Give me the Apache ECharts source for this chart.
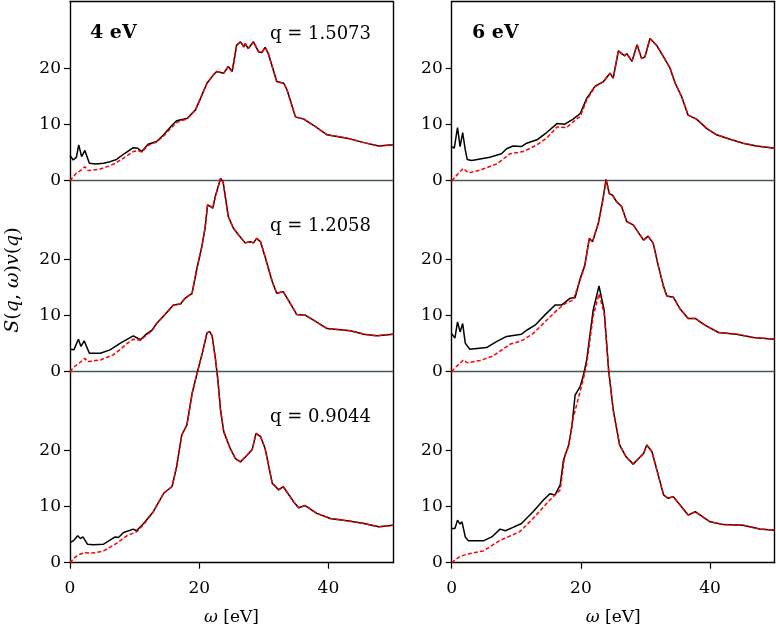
<!DOCTYPE html>
<html>
<head>
<meta charset="utf-8">
<script src="https://cdn.jsdelivr.net/npm/echarts@6/dist/echarts.min.js"></script>
<style>html,body{margin:0;padding:0;background:#fff}#c{width:776px;height:631px}</style>
</head>
<body>
<div id="c"></div>
<script>
// ---------- data: [omega (eV), S(q,w)v(q)] ----------
const panelLabels = ['4 eV', '6 eV'];
const qLabels = ['q = 1.5073', 'q = 1.2058', 'q = 0.9044'];
const xTicks = [0, 20, 40];
const yTicks = [0, 10, 20];

// 4 eV, q = 1.5073
const fullL1 = [[0,4.5],[0.5,3.7],[1.0,4.2],[1.35,6.4],[1.8,4.3],[2.3,5.4],[3.0,3.1],[4,3.0],[5.2,3.1],[6.2,3.4],[7.2,3.8],[8.5,4.9],[9.8,5.9],[10.5,5.8],[11.1,5.2],[12.1,6.5],[13.4,7.0],[14.5,8.2],[15.8,9.9],[16.5,10.7],[17.2,10.9],[18.1,11.1],[19.4,12.6],[20.2,14.7],[21.2,17.4],[22.2,18.9],[22.7,19.5],[23.8,19.2],[24.5,20.4],[25.1,19.5],[25.8,24.2],[26.4,24.8],[26.9,23.9],[27.1,24.5],[27.6,23.6],[28.4,24.8],[29.2,23.0],[29.7,22.9],[30.2,23.8],[30.7,22.7],[32.0,17.7],[33.1,17.4],[33.6,16.2],[34.9,11.4],[36.2,11.0],[37.7,9.9],[39.8,8.2],[42.9,7.6],[45.5,6.8],[47.8,6.2],[50,6.4]];
const approxL1 = [[0,0],[0.5,0.7],[1.0,1.4],[1.5,1.7],[2.3,2.5],[2.8,1.8],[3.5,1.9],[4.7,2.1],[6.0,2.6],[7.0,3.1],[8.5,4.2],[9.8,5.2],[10.5,5.4],[11.1,5.1],[12.1,6.3],[13.4,6.9],[14.5,8.0],[15.8,9.6],[16.5,10.4],[17.2,10.7],[18.1,11.0],[19.4,12.6],[20.2,14.7],[21.2,17.4],[22.2,18.9],[22.7,19.5],[23.8,19.2],[24.5,20.4],[25.1,19.5],[25.8,24.2],[26.4,24.8],[26.9,23.9],[27.1,24.5],[27.6,23.6],[28.4,24.8],[29.2,23.0],[29.7,22.9],[30.2,23.8],[30.7,22.7],[32.0,17.7],[33.1,17.4],[33.6,16.2],[34.9,11.4],[36.2,11.0],[37.7,9.9],[39.8,8.2],[42.9,7.6],[45.5,6.8],[47.8,6.2],[50,6.4]];

// 4 eV, q = 1.2058
const fullL2 = [[0,4.0],[0.6,3.9],[1.3,5.8],[1.7,4.5],[2.2,5.5],[3.0,3.3],[4.7,3.3],[6.2,3.9],[7.8,5.1],[9.8,6.4],[10.9,5.7],[11.9,6.8],[12.7,7.4],[13.4,8.6],[14.7,10.2],[16.0,11.9],[17.1,12.1],[17.8,13.1],[18.9,14.0],[19.6,18.2],[20.4,22.3],[20.9,25.6],[21.3,29.8],[21.7,29.5],[22.1,29.2],[22.5,31.3],[23.3,34.5],[23.7,33.9],[24.5,27.7],[25.3,25.6],[26.1,24.4],[27.1,23.0],[27.9,23.2],[28.4,23.0],[28.9,23.8],[29.5,23.2],[30.2,20.5],[31.3,16.1],[32.0,14.0],[33.0,14.3],[34.1,12.2],[35.1,10.2],[36.4,10.1],[37.7,9.2],[39.8,7.7],[43.4,7.3],[45.5,6.7],[47.5,6.4],[50,6.7]];
const approxL2 = [[0,0],[0.5,0.7],[1.0,1.2],[1.5,1.6],[2.3,2.4],[2.7,1.8],[3.5,1.9],[4.7,2.1],[6.7,3.0],[7.8,4.0],[8.8,5.0],[9.8,5.8],[10.9,5.6],[11.9,6.6],[12.7,7.3],[13.4,8.6],[14.7,10.2],[16.0,11.9],[17.1,12.1],[17.8,13.1],[18.9,14.0],[19.6,18.2],[20.4,22.3],[20.9,25.6],[21.3,29.8],[21.7,29.5],[22.1,29.2],[22.5,31.3],[23.3,34.5],[23.7,33.9],[24.5,27.7],[25.3,25.6],[26.1,24.4],[27.1,23.0],[27.9,23.2],[28.4,23.0],[28.9,23.8],[29.5,23.2],[30.2,20.5],[31.3,16.1],[32.0,14.0],[33.0,14.3],[34.1,12.2],[35.1,10.2],[36.4,10.1],[37.7,9.2],[39.8,7.7],[43.4,7.3],[45.5,6.7],[47.5,6.4],[50,6.7]];

// 4 eV, q = 0.9044
const fullL3 = [[0,3.6],[0.6,4.0],[1.2,4.8],[1.6,4.3],[2.0,4.6],[2.7,3.3],[3.6,3.2],[5.2,3.3],[7.0,4.6],[7.5,4.5],[8.3,5.4],[9.8,6.0],[10.3,5.7],[11.4,7.0],[12.9,9.1],[14.5,12.4],[15.8,13.6],[16.5,17.1],[17.3,22.8],[18.1,24.6],[18.9,30.2],[19.6,33.5],[20.5,37.5],[21.2,41.0],[21.6,41.3],[22.0,40.5],[22.5,36.5],[22.9,32.5],[23.3,27.3],[23.8,23.4],[24.8,20.4],[25.6,18.6],[26.4,18.0],[27.4,19.2],[28.2,20.2],[28.8,23.1],[29.5,22.5],[30.2,20.4],[31.3,14.2],[32.3,13.0],[33.0,13.6],[34.6,10.9],[35.4,9.8],[36.4,10.2],[38.2,8.8],[40.3,7.9],[43.4,7.4],[45.5,7.0],[47.8,6.4],[50,6.7]];
const approxL3 = [[0,0],[0.6,0.8],[1.3,1.4],[2.3,1.8],[3.1,1.7],[4.0,1.8],[5.2,2.1],[7.0,3.3],[8.8,4.8],[10.3,5.5],[11.4,6.8],[12.9,9.1],[14.5,12.4],[15.8,13.6],[16.5,17.1],[17.3,22.8],[18.1,24.6],[18.9,30.2],[19.6,33.5],[20.5,37.5],[21.2,41.0],[21.6,41.3],[22.0,40.5],[22.5,36.5],[22.9,32.5],[23.3,27.3],[23.8,23.4],[24.8,20.4],[25.6,18.6],[26.4,18.0],[27.4,19.2],[28.2,20.2],[28.8,23.1],[29.5,22.5],[30.2,20.4],[31.3,14.2],[32.3,13.0],[33.0,13.6],[34.6,10.9],[35.4,9.8],[36.4,10.2],[38.2,8.8],[40.3,7.9],[43.4,7.4],[45.5,7.0],[47.8,6.4],[50,6.7]];

// 6 eV, q = 1.5073
const fullR1 = [[0,6.1],[0.4,5.8],[0.9,9.5],[1.3,6.1],[1.7,8.6],[2.1,5.5],[2.4,3.8],[3.1,3.6],[5.9,4.2],[7.7,4.8],[8.5,5.7],[9.5,6.2],[10.8,6.1],[11.6,6.7],[13.2,7.3],[14.7,8.6],[16.3,10.2],[17.5,10.1],[18.8,11.0],[19.9,12.0],[20.9,14.7],[22.2,16.9],[23.5,17.7],[24.5,19.2],[25.0,18.3],[25.8,23.2],[26.3,22.7],[26.8,22.3],[27.1,22.7],[27.9,21.3],[28.7,24.3],[29.4,21.8],[29.9,22.1],[30.7,25.4],[31.7,24.2],[32.8,22.1],[33.8,20.1],[34.6,17.4],[35.6,15.0],[36.6,11.7],[37.9,11.0],[39.5,9.3],[41.0,8.2],[43.1,7.4],[45.1,6.7],[47.2,6.2],[50,5.8]];
const approxR1 = [[0,0],[0.5,0.6],[1.0,1.3],[1.8,2.2],[2.6,1.4],[4.4,1.9],[7.0,3.0],[9.0,4.8],[11.1,5.2],[13.2,6.4],[14.7,7.6],[16.3,9.6],[17.8,9.5],[19.1,10.8],[19.9,11.5],[20.9,14.4],[22.2,16.8],[23.5,17.7],[24.5,19.2],[25.0,18.3],[25.8,23.2],[26.3,22.7],[26.8,22.3],[27.1,22.7],[27.9,21.3],[28.7,24.3],[29.4,21.8],[29.9,22.1],[30.7,25.4],[31.7,24.2],[32.8,22.1],[33.8,20.1],[34.6,17.4],[35.6,15.0],[36.6,11.7],[37.9,11.0],[39.5,9.3],[41.0,8.2],[43.1,7.4],[45.1,6.7],[47.2,6.2],[50,5.8]];

// 6 eV, q = 1.2058
const fullR2 = [[0,6.8],[0.5,6.0],[0.9,8.9],[1.3,7.1],[1.7,8.6],[2.1,5.1],[2.8,4.0],[5.4,4.3],[7.0,5.4],[8.5,6.3],[10.8,6.7],[11.6,7.4],[12.9,8.3],[14.4,10.1],[16.0,11.9],[17.0,11.9],[18.3,13.1],[19.1,13.2],[19.9,16.7],[20.6,19.0],[21.3,23.8],[21.8,23.2],[22.7,26.5],[23.4,30.7],[23.9,34.3],[24.4,31.8],[24.9,31.5],[25.5,30.4],[26.3,29.5],[27.1,26.8],[28.1,26.2],[29.7,23.5],[30.4,24.2],[31.2,22.9],[32.0,18.8],[32.8,15.2],[33.3,13.5],[34.3,13.3],[35.3,11.3],[36.6,9.5],[37.7,9.5],[39.2,8.3],[41.3,7.0],[44.1,6.7],[46.7,6.1],[50,5.8]];
const approxR2 = [[0,0],[0.5,0.7],[1.3,1.5],[1.8,2.1],[2.4,1.6],[4.4,2.0],[6.4,2.8],[9.0,4.9],[10.8,5.5],[12.6,6.8],[14.7,9.2],[16.3,11.0],[17.6,12.2],[18.8,12.8],[19.9,16.4],[20.6,18.8],[21.3,23.8],[21.8,23.2],[22.7,26.5],[23.4,30.7],[23.9,34.3],[24.4,31.8],[24.9,31.5],[25.5,30.4],[26.3,29.5],[27.1,26.8],[28.1,26.2],[29.7,23.5],[30.4,24.2],[31.2,22.9],[32.0,18.8],[32.8,15.2],[33.3,13.5],[34.3,13.3],[35.3,11.3],[36.6,9.5],[37.7,9.5],[39.2,8.3],[41.3,7.0],[44.1,6.7],[46.7,6.1],[50,5.8]];

// 6 eV, q = 0.9044
const fullR3 = [[0,6.1],[0.5,6.1],[0.9,7.6],[1.3,6.9],[1.6,7.3],[2.1,4.6],[2.6,3.9],[4.9,3.9],[6.2,4.6],[7.5,6.0],[8.3,5.7],[9.5,6.3],[10.8,7.0],[12.6,9.1],[14.2,11.2],[15.2,12.3],[16.0,12.1],[16.8,13.9],[17.3,18.3],[18.1,21.0],[18.6,24.3],[19.1,29.9],[19.9,31.5],[20.4,33.5],[20.9,36.2],[21.9,45.1],[22.8,49.4],[23.6,45.1],[24.3,34.3],[25.0,27.3],[26.0,21.0],[27.0,18.9],[28.1,17.6],[29.2,18.9],[29.7,19.5],[30.2,21.0],[31.0,19.8],[32.8,12.1],[33.5,11.5],[34.3,11.8],[36.6,8.5],[37.7,9.1],[40.0,7.3],[42.1,6.8],[45.1,6.7],[47.7,6.0],[50,5.8]];
const approxR3 = [[0,0],[0.6,0.6],[1.3,1.1],[2.3,1.5],[4.9,2.1],[7.5,4.0],[10.5,5.5],[12.6,7.9],[15.2,11.2],[16.8,13.0],[17.5,19.2],[18.1,20.7],[18.8,25.8],[19.6,29.3],[20.4,32.9],[20.9,35.5],[21.9,44.0],[22.8,48.0],[23.6,44.5],[24.3,34.3],[25.0,27.3],[26.0,21.0],[27.0,18.9],[28.1,17.6],[29.2,18.9],[29.7,19.5],[30.2,21.0],[31.0,19.8],[32.8,12.1],[33.5,11.5],[34.3,11.8],[36.6,8.5],[37.7,9.1],[40.0,7.3],[42.1,6.8],[45.1,6.7],[47.7,6.0],[50,5.8]];

// ---------- layout ----------
const FONT = 'DejaVu Serif';
const GRAY = '#475656';
const colLeft = [70, 451.7];
const colW = 323;
const rowTop = [1.5, 180.7, 371.7];
const rowH = [179.2, 191, 191];
const rowYMax = [32, 34.1, 34.1];

const panels = [
  {col:0,row:0,full:fullL1,approx:approxL1},
  {col:0,row:1,full:fullL2,approx:approxL2},
  {col:0,row:2,full:fullL3,approx:approxL3},
  {col:1,row:0,full:fullR1,approx:approxR1},
  {col:1,row:1,full:fullR2,approx:approxR2},
  {col:1,row:2,full:fullR3,approx:approxR3}
];

const grids = [], xAxes = [], yAxes = [], series = [];
panels.forEach((p, i) => {
  grids.push({left: colLeft[p.col], top: rowTop[p.row], width: colW, height: rowH[p.row],
    containLabel: false, outerBoundsMode: 'none'});
  const bottom = p.row === 2;
  xAxes.push({
    gridIndex: i, type: 'value', min: 0, max: 50, position: 'bottom',
    axisLine: {show: true, onZero: false, lineStyle: {color: bottom ? '#000' : GRAY, width: bottom ? 1.4 : 1.3}},
    axisTick: {show: bottom, customValues: xTicks, length: 6, lineStyle: {color: '#000', width: 1.2}},
    axisLabel: {show: bottom, customValues: xTicks, color: '#000', fontFamily: FONT, fontSize: 17, margin: 17},
    splitLine: {show: false},
    name: bottom ? '{i|ω} [eV]' : '', nameLocation: 'middle', nameGap: 46,
    nameTextStyle: {color: '#000', fontFamily: FONT, fontSize: 17,
      rich: {i: {fontStyle: 'italic', fontFamily: FONT, fontSize: 17, color: '#000'}}}
  });
  yAxes.push({
    gridIndex: i, type: 'value', min: 0, max: rowYMax[p.row], position: 'left',
    axisLine: {show: true, onZero: false, lineStyle: {color: '#000', width: 1.4}},
    axisTick: {show: true, customValues: yTicks, length: 6, lineStyle: {color: '#000', width: 1.2}},
    axisLabel: {show: true, customValues: yTicks, color: '#000', fontFamily: FONT, fontSize: 17, margin: 9},
    splitLine: {show: false}
  });
});
// extra axes: right spines and top spines
panels.forEach((p, i) => {
  yAxes.push({
    gridIndex: i, type: 'value', min: 0, max: rowYMax[p.row], position: 'right',
    axisLine: {show: true, onZero: false, lineStyle: {color: '#000', width: 1.4}},
    axisTick: {show: false}, axisLabel: {show: false}, splitLine: {show: false}
  });
});
panels.forEach((p, i) => {
  if (p.row === 0) {
    xAxes.push({
      gridIndex: i, type: 'value', min: 0, max: 50, position: 'top',
      axisLine: {show: true, onZero: false, lineStyle: {color: '#000', width: 1.4}},
      axisTick: {show: false}, axisLabel: {show: false}, splitLine: {show: false}
    });
  }
});
panels.forEach((p, i) => {
  series.push({
    type: 'line', xAxisIndex: i, yAxisIndex: i, data: p.full, showSymbol: false, symbol: 'none',
    clip: false, z: 3, lineStyle: {color: '#000', width: 1.5}
  });
});
panels.forEach((p, i) => {
  series.push({
    type: 'line', xAxisIndex: i, yAxisIndex: i, data: p.approx, showSymbol: false, symbol: 'none',
    clip: false, z: 4, lineStyle: {color: '#ff0000', width: 1.5, type: [4, 2.2]}
  });
});

const qStyle = (t) => ({text: t, font: '18px "DejaVu Serif"', fill: '#000', textAlign: 'right', textVerticalAlign: 'middle'});
const graphics = [
  {type: 'text', left: 90, top: 24, style: {text: panelLabels[0], font: 'bold 19px "DejaVu Serif"', fill: '#000'}},
  {type: 'text', left: 472, top: 24, style: {text: panelLabels[1], font: 'bold 19px "DejaVu Serif"', fill: '#000'}},
  {type: 'text', x: 371, y: 34, style: qStyle(qLabels[0])},
  {type: 'text', x: 371, y: 226, style: qStyle(qLabels[1])},
  {type: 'text', x: 371, y: 417, style: qStyle(qLabels[2])},
  {type: 'text', x: 13, y: 280, rotation: Math.PI / 2,
    style: {text: '{i|S}({i|q}, {i|ω}){i|v}({i|q})', font: '19px "DejaVu Serif"', fill: '#000',
      textAlign: 'center', textVerticalAlign: 'middle',
      rich: {i: {fontStyle: 'italic', fontFamily: FONT, fontSize: 19, fill: '#000'}}}}
];

const chart = echarts.init(document.getElementById('c'), null, {renderer: 'canvas'});
chart.setOption({
  animation: false,
  backgroundColor: '#fff',
  grid: grids, xAxis: xAxes, yAxis: yAxes, series: series, graphic: graphics
});
</script>
</body>
</html>
